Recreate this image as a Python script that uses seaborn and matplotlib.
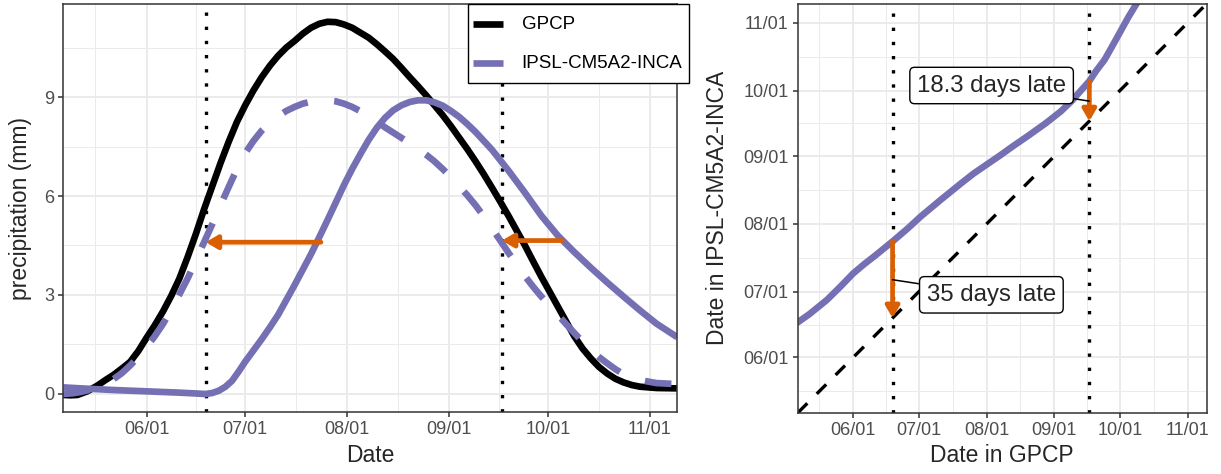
import numpy as np
import pandas as pd
import matplotlib
matplotlib.use("Agg")
import matplotlib.pyplot as plt
import matplotlib.dates as mdates
import matplotlib.ticker as mticker
from matplotlib.lines import Line2D
from matplotlib.patches import Rectangle
import seaborn as sns

# ---------------- data (days counted from 1 June) ----------------
BASE = pd.Timestamp("2001-06-01")

gpcp_day = [-25.3, -23, -21, -18, -15, -12.5, -10, -7.5, -5, -2.5, 0, 2.5, 5, 7.5, 10, 12.5,
            15, 17.5, 20, 22.5, 25, 27.5, 30, 32.5, 35, 37.5, 40, 42.5, 45, 47.5, 50, 52.5,
            55, 57.5, 60, 62.5, 65, 67.5, 70, 72.5, 75, 77.5, 80, 82.5, 85, 87.5, 90, 92.5,
            95, 97.5, 100, 102.5, 105, 107.5, 110, 112.5, 115, 117.5, 120, 122.5, 125, 127.5,
            130, 132.5, 135, 137.5, 140, 142.5, 145, 147.5, 150, 155, 161.3]
gpcp_mm = [-0.03, -0.04, -0.03, 0.08, 0.25, 0.42, 0.58, 0.77, 0.97, 1.3, 1.7, 2.08, 2.5,
           2.97, 3.5, 4.15, 4.85, 5.6, 6.3, 7.0, 7.65, 8.25, 8.75, 9.2, 9.6, 9.95, 10.25,
           10.5, 10.7, 10.92, 11.1, 11.22, 11.28, 11.27, 11.2, 11.1, 10.95, 10.8, 10.6,
           10.38, 10.15, 9.88, 9.6, 9.33, 9.05, 8.75, 8.45, 8.12, 7.77, 7.42, 7.05, 6.66,
           6.25, 5.83, 5.4, 4.95, 4.5, 4.02, 3.55, 3.1, 2.65, 2.2, 1.75, 1.38, 1.08, 0.82,
           0.62, 0.46, 0.35, 0.27, 0.22, 0.18, 0.17]

ipsl_day = [-25.3, -20, -10, 0, 10, 16, 18, 20, 22, 24, 26, 28, 30, 32.5, 35, 37.5, 40, 42.5,
            45, 47.5, 50, 52.5, 55, 57.5, 60, 62.5, 65, 67.5, 70, 72.5, 75, 77.5, 80, 82.5,
            85, 87.5, 90, 92.5, 95, 97.5, 100, 105, 110, 115, 120, 125, 130, 135, 140, 145,
            150, 155, 161.3]
ipsl_mm = [0.2, 0.17, 0.12, 0.08, 0.04, 0.01, 0.0, 0.03, 0.1, 0.22, 0.4, 0.68, 0.98, 1.32,
           1.66, 2.02, 2.4, 2.85, 3.3, 3.77, 4.24, 4.75, 5.27, 5.8, 6.33, 6.82, 7.27, 7.7,
           8.07, 8.37, 8.6, 8.75, 8.85, 8.9, 8.9, 8.84, 8.74, 8.58, 8.4, 8.18, 7.94, 7.4,
           6.77, 6.1, 5.4, 4.8, 4.3, 3.83, 3.38, 2.95, 2.53, 2.13, 1.72]

shifted_day = [-25.3, -22.5, -20, -17.5, -15, -12.5, -10, -7.5, -5, -2.5, 0, 2.5, 5, 7.5, 10,
               12.5, 15, 17.5, 20, 22.5, 25, 27.5, 30, 32.5, 35, 37.5, 40, 42.5, 45, 47.5,
               50, 52.5, 55, 57.5, 60, 62.5, 65, 67.5, 70, 72.5, 75, 77.5, 80, 82.5, 85,
               87.5, 90, 92.5, 95, 97.5, 100, 102.5, 105, 107.5, 110, 112.5, 115, 117.5, 120,
               122.5, 125, 127.5, 130, 132.5, 135, 137.5, 140, 142.5, 145, 147.5, 150, 155,
               161.3]
shifted_mm = [0.0, 0.02, 0.06, 0.12, 0.2, 0.31, 0.45, 0.63, 0.86, 1.12, 1.42, 1.75, 2.12,
              2.55, 3.02, 3.5, 4.05, 4.6, 5.15, 5.72, 6.28, 6.82, 7.3, 7.67, 7.98, 8.22, 8.42,
              8.58, 8.7, 8.8, 8.86, 8.9, 8.9, 8.87, 8.8, 8.7, 8.57, 8.42, 8.25, 8.08, 7.92,
              7.76, 7.6, 7.43, 7.25, 7.05, 6.82, 6.57, 6.3, 6.02, 5.72, 5.38, 5.02, 4.65,
              4.28, 3.92, 3.57, 3.25, 2.95, 2.67, 2.4, 2.12, 1.85, 1.58, 1.33, 1.12, 0.93,
              0.75, 0.6, 0.5, 0.42, 0.33, 0.3]

map_gpcp_day = [-25.4, -20, -12, -6, 0, 5, 10, 18, 25, 31, 40, 49, 55, 62, 67, 73, 80, 88,
                95, 100, 104, 108, 111, 115, 118, 122, 126, 131]
map_ipsl_day = [16.0, 19.8, 26.3, 32.2, 38.4, 42.6, 46.5, 53.0, 59.0, 64.5, 72.0, 79.3,
                84.0, 88.8, 92.2, 96.5, 101.3, 107.0, 112.5, 117.3, 121.8, 126.3, 130.8,
                136.1, 141.4, 148.6, 155.8, 164.0]

identity_day = [-25.3, 161.3]

event_day = [18, 108]          # onset / withdrawal in GPCP (19 Jun, 17 Sep)
event_lag = [35, 18.3]         # days late in IPSL-CM5A2-INCA
threshold_mm = [4.6, 4.65]
lag_labels = ["35 days late", "18.3 days late"]

series_names = ["GPCP", "IPSL-CM5A2-INCA"]
BLACK, PURPLE, ORANGE = "#000000", "#7570B3", "#D95F02"

# ---------------- helpers ----------------
def dnum(days):
    return mdates.date2num(BASE + pd.to_timedelta(np.asarray(days, float), unit="D"))

sns.set_style("white")
plt.rcParams["font.family"] = ["Liberation Sans", "DejaVu Sans"]

W, H = 1221, 474
fig = plt.figure(figsize=(W / 100, H / 100), dpi=100)
axL = fig.add_axes([0.0518, 0.1302, 0.5029, 0.8614])
axR = fig.add_axes([0.6533, 0.1293, 0.3350, 0.8622])

LW = 4.8
major_months = [pd.Timestamp(f"2001-{m:02d}-01") for m in range(6, 12)]
minor_dates = [pd.Timestamp("2001-05-01") + (pd.Timestamp("2001-06-01") - pd.Timestamp("2001-05-01")) / 2]
for m in range(6, 12):
    a = pd.Timestamp(f"2001-{m:02d}-01")
    b = pd.Timestamp(f"2001-{m+1:02d}-01")
    minor_dates.append(a + (b - a) / 2)
major_num = mdates.date2num(major_months)
minor_num = mdates.date2num(minor_dates)
fmt = mticker.FixedFormatter([d.strftime("%m/%d") for d in major_months])


def style(ax):
    ax.set_facecolor("white")
    for s in ax.spines.values():
        s.set_color("#333333")
        s.set_linewidth(1.1)
        s.set_visible(True)
    ax.grid(which="major", color="#EBEBEB", lw=1.4)
    ax.grid(which="minor", color="#EBEBEB", lw=0.7)
    ax.set_axisbelow(True)
    ax.tick_params(which="major", length=3.5, width=1.1, color="#333333",
                   labelsize=13, labelcolor="#4D4D4D", pad=3,
                   bottom=True, left=True)
    ax.tick_params(which="minor", length=0, bottom=True, left=True)


def date_axis(axis):
    axis.set_major_locator(mticker.FixedLocator(major_num))
    axis.set_major_formatter(fmt)
    axis.set_minor_locator(mticker.FixedLocator(minor_num))


ARROW = dict(arrowstyle="-|>,head_length=0.34,head_width=0.2", color=ORANGE, lw=3.4,
             shrinkA=0, shrinkB=0, mutation_scale=20)

# ---------------- left panel ----------------
df_main = pd.DataFrame({
    "date": np.concatenate([dnum(gpcp_day), dnum(ipsl_day)]),
    "precip": np.concatenate([gpcp_mm, ipsl_mm]),
    "source": [series_names[0]] * len(gpcp_day) + [series_names[1]] * len(ipsl_day),
})
df_shift = pd.DataFrame({"date": dnum(shifted_day), "precip": shifted_mm})

for v in event_day:
    axL.axvline(dnum([v])[0], color="black", lw=2.4, dashes=(1, 3.25), zorder=1.5)

sns.lineplot(data=df_main[df_main.source == series_names[0]], x="date", y="precip",
             color=BLACK, lw=LW, ax=axL, legend=False, estimator=None,
             solid_capstyle="butt", solid_joinstyle="round", zorder=2)
sns.lineplot(data=df_main[df_main.source == series_names[1]], x="date", y="precip",
             color=PURPLE, lw=LW, ax=axL, legend=False, estimator=None,
             solid_capstyle="butt", solid_joinstyle="round", zorder=2.1)
sns.lineplot(data=df_shift, x="date", y="precip", color=PURPLE, lw=LW, ax=axL,
             legend=False, estimator=None, zorder=2.2)
axL.lines[-1].set_dashes((4, 4))
axL.lines[-1].set_dash_capstyle("butt")
axL.lines[-1].set_dash_joinstyle("round")

for d, lag, y in zip(event_day, event_lag, threshold_mm):
    axL.annotate("", xy=(dnum([d])[0], y), xytext=(dnum([d + lag])[0], y),
                 arrowprops=ARROW, zorder=3)

style(axL)
date_axis(axL.xaxis)
axL.yaxis.set_major_locator(mticker.FixedLocator([0, 3, 6, 9]))
axL.yaxis.set_minor_locator(mticker.FixedLocator([1.5, 4.5, 7.5, 10.5]))
axL.set_xlim(dnum([-25.3])[0], dnum([161.3])[0])
axL.set_ylim(-0.555, 11.82)
axL.set_xlabel("Date", fontsize=16.5, labelpad=4)
axL.set_ylabel("precipitation (mm)", fontsize=16.5, labelpad=8.5)

# legend box (figure pixel layout, top-right of the left panel)
def fx(px):
    return px / W

def fy(py):
    return 1 - py / H

fig.add_artist(Rectangle((fx(468.3), fy(82.7)), fx(689.3) - fx(468.3), fy(4) - fy(82.7),
                         transform=fig.transFigure, fc="white", ec="black", lw=1.0,
                         zorder=10))
for name, col, py in zip(series_names, [BLACK, PURPLE], [24.3, 63.3]):
    fig.add_artist(Line2D([fx(473.3), fx(503.3)], [fy(py), fy(py)], transform=fig.transFigure,
                          color=col, lw=LW, solid_capstyle="butt", zorder=11))
    fig.text(fx(521.7), fy(py + 0.5), name, ha="left", va="center", fontsize=13.5,
             color="black", zorder=11)

# ---------------- right panel ----------------
df_map = pd.DataFrame({"gpcp": dnum(map_gpcp_day), "ipsl": dnum(map_ipsl_day)})
df_id = pd.DataFrame({"gpcp": dnum(identity_day), "ipsl": dnum(identity_day)})

for v in event_day:
    axR.axvline(dnum([v])[0], color="black", lw=2.4, dashes=(1, 3.25), zorder=1.5)

sns.lineplot(data=df_id, x="gpcp", y="ipsl", color="black", lw=2.4, ax=axR,
             legend=False, estimator=None, zorder=2)
axR.lines[-1].set_dashes((4, 4))
axR.lines[-1].set_dash_capstyle("butt")
sns.lineplot(data=df_map, x="gpcp", y="ipsl", color=PURPLE, lw=LW, ax=axR,
             legend=False, estimator=None, sort=False, solid_joinstyle="round", zorder=2.1)

label_pos = [(63.2, 28.6), (63.3, 124.3)]
for d, lag, txt, (lx, ly) in zip(event_day, event_lag, lag_labels, label_pos):
    x = dnum([d])[0]
    axR.annotate("", xy=(x, dnum([d])[0]), xytext=(x, dnum([d + lag])[0]),
                 arrowprops=ARROW, zorder=3)
    axR.annotate(txt, xy=(x, dnum([d + lag / 2])[0]), xytext=(dnum([lx])[0], dnum([ly])[0]),
                 ha="center", va="center", fontsize=17.3, zorder=4,
                 bbox=dict(boxstyle="round,pad=0.3,rounding_size=0.2", fc="white",
                           ec="black", lw=1.0),
                 arrowprops=dict(arrowstyle="-", color="black", lw=1.1,
                                 shrinkA=0, shrinkB=0))

style(axR)
date_axis(axR.xaxis)
date_axis(axR.yaxis)
axR.set_xlim(dnum([-25.4])[0], dnum([161.7])[0])
axR.set_ylim(dnum([-25.3])[0], dnum([161.55])[0])
axR.set_xlabel("Date in GPCP", fontsize=16.5, labelpad=4)
axR.set_ylabel("Date in IPSL-CM5A2-INCA", fontsize=16.5, labelpad=10)

fig.savefig("out.png", dpi=100)
